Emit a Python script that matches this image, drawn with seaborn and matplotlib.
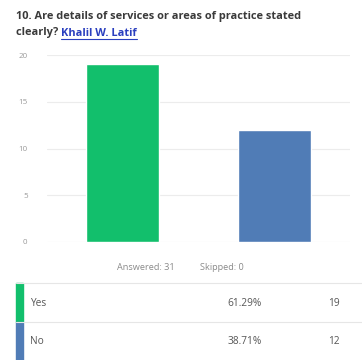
import matplotlib
matplotlib.use("Agg")
import matplotlib.pyplot as plt
import seaborn as sns
import pandas as pd

categories = ["Yes", "No"]
counts = [19, 12]
percents = ["61.29%", "38.71%"]
colors = ["#12bf6c", "#507cb6"]
yticks = [0, 5, 10, 15, 20]
answered = 31
skipped = 0

sns.set_style("white")
plt.rcParams['font.family'] = ['Open Sans', 'DejaVu Sans']

df = pd.DataFrame({"cat": categories, "n": counts})

fig = plt.figure(figsize=(3.62, 3.6), dpi=100)
W, H = 362, 360
ax = fig.add_axes([47 / W, 1 - 242 / H, (350 - 47) / W, (242 - 55) / H])
sns.barplot(data=df, x="cat", y="n", hue="cat", palette=colors, width=0.48,
            legend=False, ax=ax, saturation=1)
ax.set_xlim(-0.5, 1.5)
ax.set_ylim(0, 20)
ax.set_yticks(yticks)
ax.set_yticklabels([str(t) for t in yticks], fontsize=5.8, color="#9a9a9a")
ax.tick_params(axis="y", length=0, pad=14)
ax.set_xticks([])
ax.set_xlabel("")
ax.set_ylabel("")
for s in ax.spines.values():
    s.set_visible(False)
ax.yaxis.grid(True, color="#ececec", linewidth=0.8)
ax.set_axisbelow(True)

# title
fs = 7.9
fig.text(16 / W, 1 - 16 / H, "10. Are details of services or areas of practice stated",
         fontsize=fs, fontweight="bold", color="#3a3a3a", va="center", ha="left")
t1 = fig.text(16 / W, 1 - 33 / H, "clearly? ", fontsize=fs, fontweight="bold",
              color="#3a3a3a", va="center", ha="left")
fig.canvas.draw()
bb = t1.get_window_extent()
t2 = fig.text(bb.x1 / W, 1 - 33 / H, "Khalil W. Latif", fontsize=fs, fontweight="bold",
              color="#2a3fbf", va="center", ha="left")
fig.canvas.draw()
bb2 = t2.get_window_extent()
fig.add_artist(plt.Line2D([bb2.x0 / W, bb2.x1 / W], [1 - 39 / H, 1 - 39 / H],
                          color="#2a3fbf", linewidth=0.8))

fig.text(146 / W, 1 - 268 / H, f"Answered: {answered}", fontsize=6.6, color="#8a8a8a",
         ha="center", va="center")
fig.text(222 / W, 1 - 268 / H, f"Skipped: {skipped}", fontsize=6.6, color="#8a8a8a",
         ha="center", va="center")

# table
for yline in [283, 322]:
    fig.add_artist(plt.Line2D([16 / W, 1], [1 - yline / H, 1 - yline / H],
                              color="#e6e6e6", linewidth=0.8))
rows_top = [283, 322]
for i, cat in enumerate(categories):
    top = rows_top[i]
    bot = top + 39 if i == 0 else 360
    fig.add_artist(plt.Rectangle((16 / W, 1 - bot / H), 7 / W, (bot - top) / H,
                                 color=colors[i], transform=fig.transFigure))
    yc = 1 - (top + 20) / H
    fig.text(30 / W, yc, cat, fontsize=7.3, color="#555555", ha="left", va="center")
    fig.text(262 / W, yc, percents[i], fontsize=7.3, color="#555555", ha="right", va="center")
    fig.text(340 / W, yc, str(counts[i]), fontsize=7.3, color="#555555", ha="right", va="center")

fig.savefig("out.png", dpi=100)
